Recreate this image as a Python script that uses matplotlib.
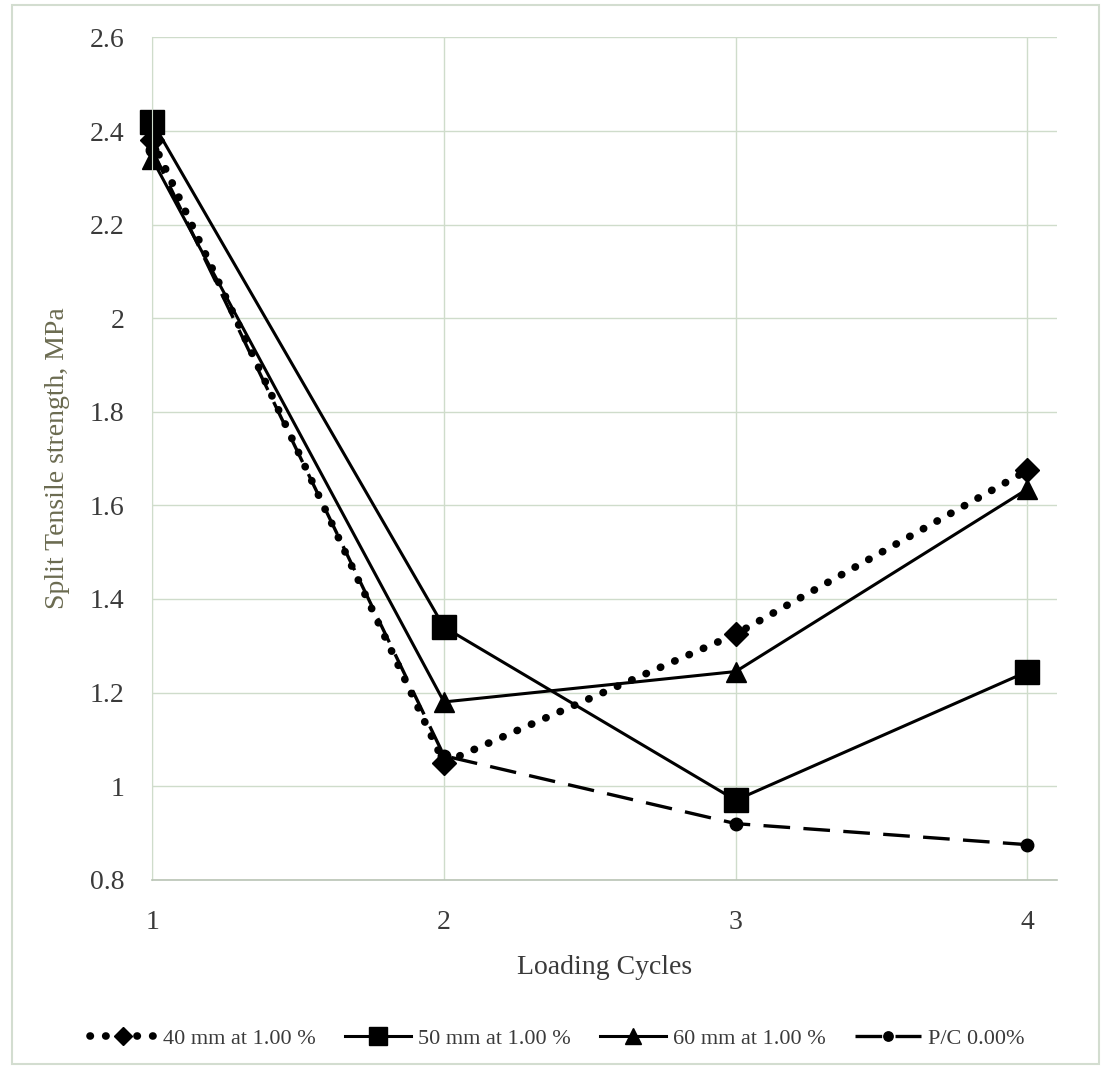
import matplotlib.pyplot as plt
from matplotlib.patches import Rectangle

plt.rcParams['font.family'] = ['Liberation Serif', 'DejaVu Serif']

# loading cycles and split tensile strength (MPa) for each mix
cycles = [1, 2, 3, 4]
fib_40 = [2.38, 1.05, 1.325, 1.675]
fib_50 = [2.42, 1.34, 0.97, 1.245]
fib_60 = [2.34, 1.18, 1.245, 1.635]
plain = [2.36, 1.065, 0.92, 0.875]

labels = ['40 mm at 1.00 %', '50 mm at 1.00 %', '60 mm at 1.00 %', 'P/C 0.00%']
y_ticks = [0.8, 1, 1.2, 1.4, 1.6, 1.8, 2, 2.2, 2.4, 2.6]
y_tick_labels = ['0.8', '1', '1.2', '1.4', '1.6', '1.8', '2', '2.2', '2.4', '2.6']

grid_col = '#cfdccb'
text_col = '#3a3a3a'

fig = plt.figure(figsize=(11.03, 10.69), dpi=100)
fig.patch.set_facecolor('white')
ax = fig.add_axes([0.138, 0.177, 0.82, 0.788])

ax.plot(cycles, fib_40, color='black', lw=5.5, linestyle=(0, (0.05, 2.0)),
        dash_capstyle='round', marker='D', markersize=12, label=labels[0],
        clip_on=False)
ax.plot(cycles, fib_50, color='black', lw=2.2, marker='s', markersize=17,
        label=labels[1], clip_on=False)
ax.plot(cycles, fib_60, color='black', lw=2.2, marker='^', markersize=15,
        label=labels[2], clip_on=False)
ax.plot(cycles, plain, color='black', lw=2.4, linestyle=(0, (8, 4)),
        marker='o', markersize=9, label=labels[3], clip_on=False)

ax.set_xlim(1, 4.1)
ax.set_ylim(0.8, 2.6)
ax.set_xticks(cycles)
ax.set_yticks(y_ticks)
ax.set_yticklabels(y_tick_labels)
ax.tick_params(length=0, labelsize=20, labelcolor=text_col, pad=20)
ax.tick_params(axis='x', pad=22)
ax.grid(True, color=grid_col, lw=1)
ax.set_axisbelow(True)
for side in ['top', 'right']:
    ax.spines[side].set_visible(False)
ax.spines['left'].set_color(grid_col)
ax.spines['bottom'].set_color('#b9c4b5')
ax.spines['bottom'].set_linewidth(1.2)

ax.set_xlabel('Loading Cycles', fontsize=20, color=text_col, labelpad=14)
ax.set_ylabel('Split Tensile strength, MPa', fontsize=20, color='#6b6b50',
              labelpad=14)

fig.legend(loc='lower center', bbox_to_anchor=(0.505, 0.0), ncol=4,
           frameon=False, fontsize=16, handlelength=3.0, handletextpad=0.3,
           columnspacing=1.3, markerscale=0.75, labelcolor=text_col)

# light outer border around the whole chart
fig.patches.append(Rectangle((0.011, 0.005), 0.985, 0.99, transform=fig.transFigure,
                             fill=False, edgecolor='#d3ddd0', lw=1.5))

fig.savefig('out.png', dpi=100)
